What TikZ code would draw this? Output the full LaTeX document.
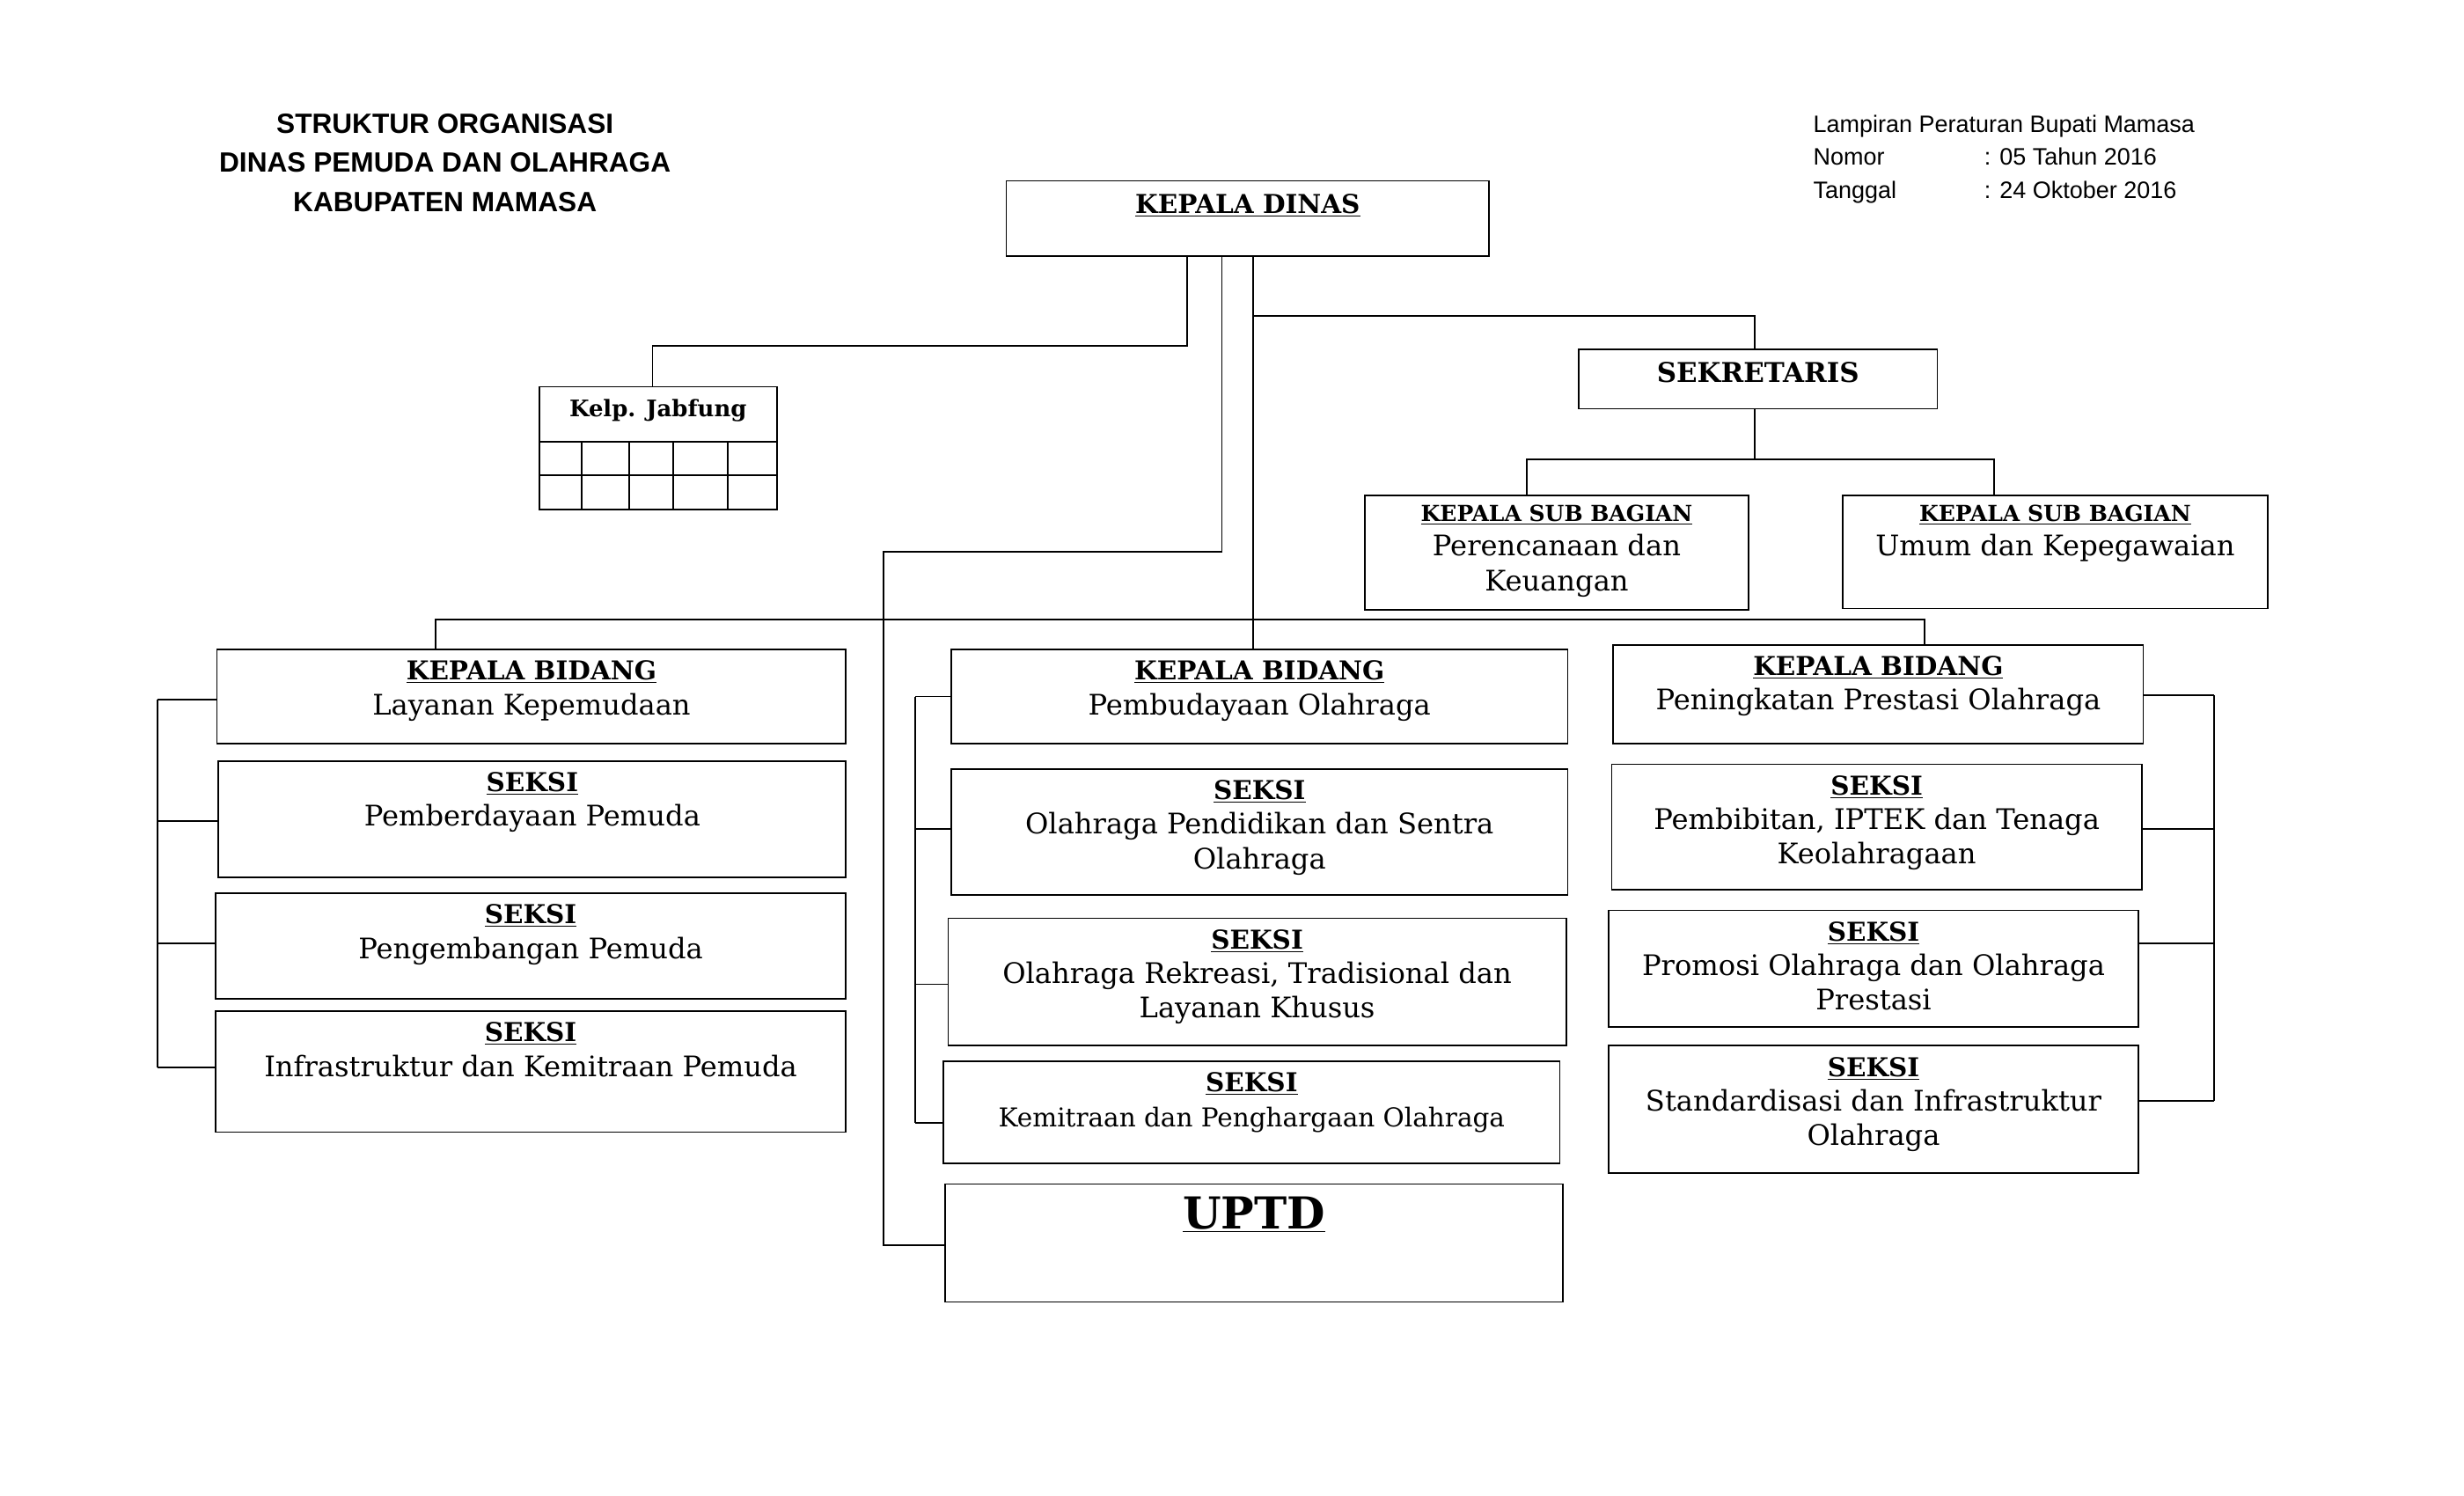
\documentclass[tikz,border=0pt]{standalone}
\usepackage{fontspec}
\usetikzlibrary{fit}
\newfontfamily\bk{DejaVu Serif}
\newfontfamily\hv{Liberation Sans}
\tikzset{box/.style={draw,line width=1pt,inner sep=0pt,outer sep=0pt},
 txt/.style={anchor=north,align=center,font=\bk\fontsize{18}{22}\selectfont,inner sep=0pt},
 ln/.style={line width=1pt}}
\newcommand\hd[1]{{\fontsize{16.5}{22}\selectfont\bfseries\underline{#1}}}
\newcommand\hs[1]{{\fontsize{14}{22}\selectfont\bfseries\underline{#1}}}
\newcommand\bx[7]{\node[box,fit={(#2,#3)(#4,#5)}] (#1) {};
 \node[txt] (#1t) at ([yshift=-#6pt]#1.north) {#7};}
\begin{document}
\begin{tikzpicture}[x=1pt,y=-1pt]
\useasboundingbox (0,0) rectangle (1567,951);
\fill[white] (0,0) rectangle (1567,951);
% titles
\node[align=center,font=\hv\bfseries\fontsize{17.7}{25}\selectfont,anchor=north,inner sep=0pt] (title) at (283,72) {STRUKTUR ORGANISASI\\DINAS PEMUDA DAN OLAHRAGA\\KABUPATEN MAMASA};
\node[align=left,font=\hv\fontsize{15.1}{21}\selectfont,anchor=north west,inner sep=0pt] (lamp) at (1153,73) {Lampiran Peraturan Bupati Mamasa\\Nomor\hspace{4.2em}: 05 Tahun 2016\\Tanggal\hspace{3.7em}: 24 Oktober 2016};
% boxes
\bx{kd}{640}{115}{947}{163}{8}{\hd{KEPALA DINAS}}
\bx{sek}{1004}{222}{1232}{260}{8}{{\fontsize{17.3}{20}\selectfont\bfseries SEKRETARIS}}
\bx{ksa}{868}{315}{1112}{388}{6}{\hs{KEPALA SUB BAGIAN}\\Perencanaan dan\\Keuangan}
\bx{ksb}{1172}{315}{1442}{387}{6}{\hs{KEPALA SUB BAGIAN}\\Umum dan Kepegawaian}
\node[box,fit={(343,246)(494,324)}] (jab) {};
\node[txt] (jabt) at ([yshift=-8pt]jab.north) {{\fontsize{14.5}{20}\selectfont\bfseries Kelp. Jabfung}};
\draw[ln] (343,281) -- (494,281) (343,302) -- (494,302);
\foreach \x in {370,400,428,463} \draw[ln] (\x,281) -- (\x,324);
% left
\bx{kbl}{138}{413}{538}{473}{7}{\hd{KEPALA BIDANG}\\Layanan Kepemudaan}
\bx{l1}{139}{484}{538}{558}{7}{\hd{SEKSI}\\Pemberdayaan Pemuda}
\bx{l2}{137}{568}{538}{635}{7}{\hd{SEKSI}\\Pengembangan Pemuda}
\bx{l3}{137}{643}{538}{720}{7}{\hd{SEKSI}\\Infrastruktur dan Kemitraan Pemuda}
% middle
\bx{kbm}{605}{413}{997}{473}{7}{\hd{KEPALA BIDANG}\\Pembudayaan Olahraga}
\bx{m1}{605}{489}{997}{569}{7}{\hd{SEKSI}\\Olahraga Pendidikan dan Sentra\\Olahraga}
\bx{m2}{603}{584}{996}{665}{7}{\hd{SEKSI}\\Olahraga Rekreasi, Tradisional dan\\Layanan Khusus}
\bx{m3}{600}{675}{992}{740}{7}{\hd{SEKSI}\\{\fontsize{16.5}{22}\selectfont Kemitraan dan Penghargaan Olahraga}}
\bx{uptd}{601}{753}{994}{828}{8}{{\fontsize{28}{32}\selectfont\bfseries\underline{UPTD}}}
% right
\bx{kbr}{1026}{410}{1363}{473}{7}{\hd{KEPALA BIDANG}\\Peningkatan Prestasi Olahraga}
\bx{r1}{1025}{486}{1362}{566}{7}{\hd{SEKSI}\\Pembibitan, IPTEK dan Tenaga\\Keolahragaan}
\bx{r2}{1023}{579}{1360}{653}{7}{\hd{SEKSI}\\Promosi Olahraga dan Olahraga\\Prestasi}
\bx{r3}{1023}{665}{1360}{746}{7}{\hd{SEKSI}\\Standardisasi dan Infrastruktur\\Olahraga}
% connectors
\coordinate (a1) at (755,220); \coordinate (a2) at (415,220);
\draw[ln] (kd.south -| a1) -- (a1) -- (a2) -- (jab.north -| a2);
\coordinate (b1) at (777,351); \coordinate (b2) at (562,351); \coordinate (b3) at (562,792);
\draw[ln] (kd.south -| b1) -- (b1) -- (b2) -- (b3) -- (b3 -| uptd.west);
\coordinate (c0) at (797,201); \coordinate (c1) at (1116,201);
\draw[ln] (kd.south -| c0) -- (kbm.north -| c0);
\draw[ln] (c0) -- (c1) -- (sek.north -| c1);
\coordinate (d1) at (277,394); \coordinate (d2) at (1224,394);
\draw[ln] (kbl.north -| d1) -- (d1) -- (d2) -- (kbr.north -| d2);
\coordinate (e0) at (1116,292); \coordinate (e1) at (971,292); \coordinate (e2) at (1268,292);
\draw[ln] (sek.south -| e0) -- (e0);
\draw[ln] (ksa.north -| e1) -- (e1) -- (e2) -- (ksb.north -| e2);
% brackets
\draw[ln] (100,445) -- (100,679);
\foreach \y/\n in {445/kbl,522/l1,600/l2,679/l3} \draw[ln] (100,\y) -- (\n.west |- 0,\y);
\draw[ln] (582,443) -- (582,714);
\foreach \y/\n in {443/kbm,527/m1,626/m2,714/m3} \draw[ln] (582,\y) -- (\n.west |- 0,\y);
\draw[ln] (1408,442) -- (1408,700);
\foreach \y/\n in {442/kbr,527/r1,600/r2,700/r3} \draw[ln] (1408,\y) -- (\n.east |- 0,\y);
\end{tikzpicture}
\end{document}
